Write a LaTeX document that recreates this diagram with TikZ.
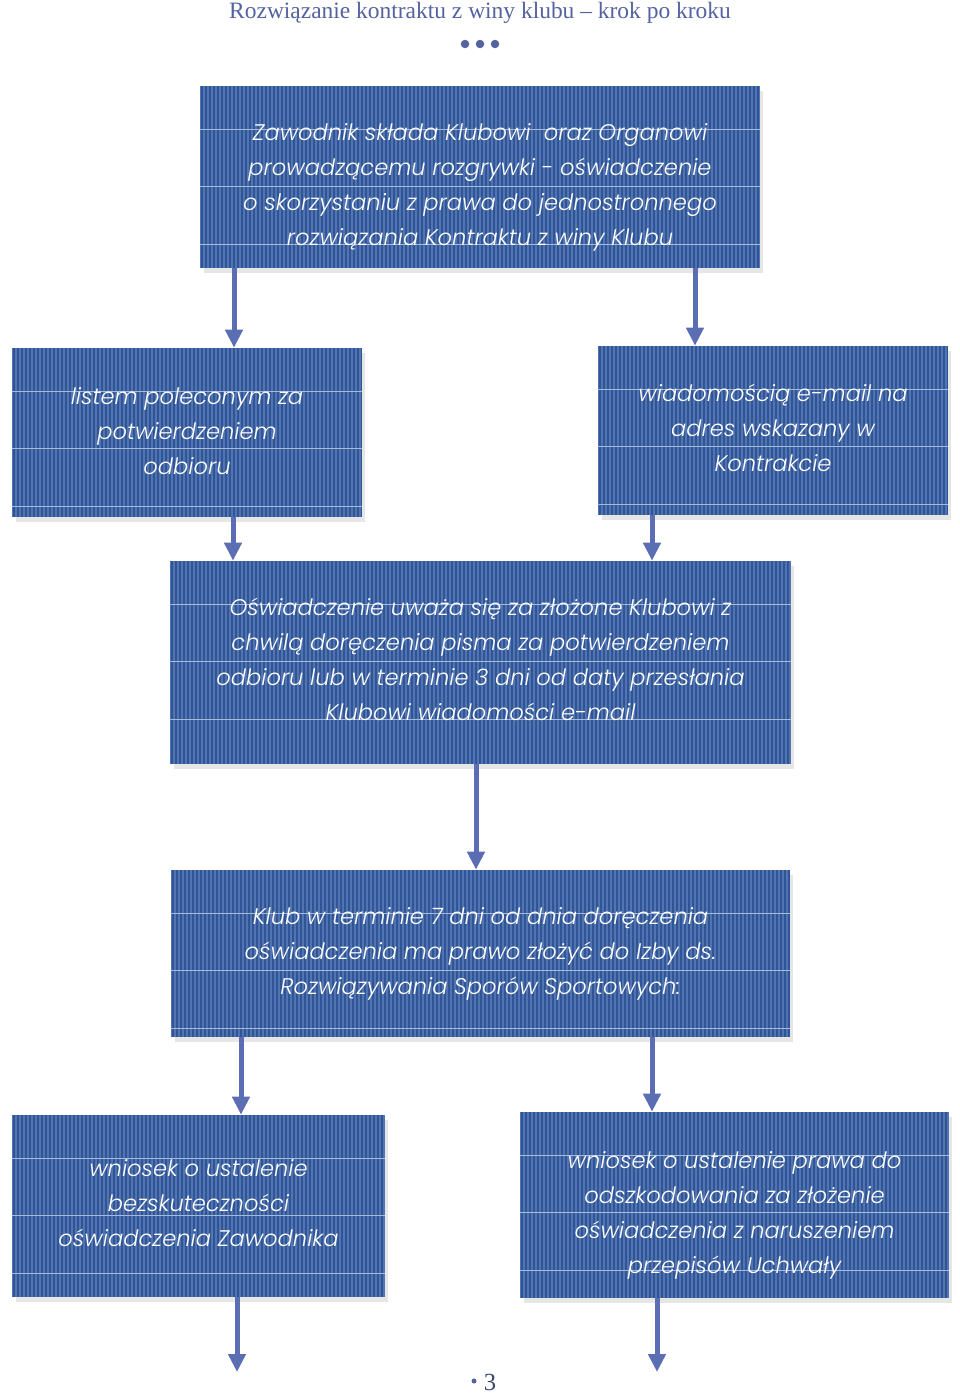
\documentclass[tikz,border=0pt]{standalone}
\usepackage{fontspec}
\setmainfont{Liberation Serif}
\newfontfamily\boxfont{Poppins Light Italic}
\usetikzlibrary{positioning}
\usetikzlibrary{arrows.meta}
\usetikzlibrary{shadows}
\definecolor{boxblue}{RGB}{47,85,151}
\definecolor{stripeblue}{RGB}{82,116,176}
\definecolor{ruleblue}{RGB}{165,185,220}
\definecolor{arrowblue}{RGB}{91,110,180}
\definecolor{titleblue}{RGB}{84,98,160}
\tikzset{
    mybox/.style = {rectangle, fill=boxblue, inner sep=0pt,
        drop shadow={shadow xshift=2pt,shadow yshift=-3pt,opacity=.2},
        path picture={
            \foreach \k in {0,4,...,640}
                \draw[stripeblue,line width=0.7pt] ([xshift=\k*0.02cm]path picture bounding box.north west) -- ([xshift=\k*0.02cm]path picture bounding box.south west);
            \foreach \k in {43,100.5,158}
                \draw[ruleblue,line width=0.5pt] ([yshift=-\k*0.02cm]path picture bounding box.north west) -- ([yshift=-\k*0.02cm]path picture bounding box.north east);
        }},
    boxtext/.style = {inner sep=0pt, align=center, text=white, font=\boxfont\fontsize{12.85}{19.9}\selectfont},
    edgea/.style = {arrowblue, line width=0.1cm, -{Triangle[width=0.34cm,length=0.36cm]}},
    dot/.style = {circle, fill=titleblue, inner sep=0pt, minimum size=0.17cm}
}

\begin{document}
\begin{tikzpicture}[x=0.02cm,y=-0.02cm]
\useasboundingbox (0,0) rectangle (960,1393);
\node[text=titleblue,font=\fontsize{13.35}{16}\selectfont] at (480,13) (title) {Rozwiązanie kontraktu z winy klubu – krok po kroku};
\node[dot] at (465,44) (d1) {};
\node[dot] at (480,44) (d2) {};
\node[dot] at (495,44) (d3) {};
%
\node[mybox,minimum width=11.2cm,minimum height=3.64cm] at (480,177) (s1) {};
\node[mybox,minimum width=7cm,minimum height=3.38cm] at (187,432.5) (s2) {};
\node[mybox,minimum width=7cm,minimum height=3.38cm] at (773,430.5) (s3) {};
\node[mybox,minimum width=12.42cm,minimum height=4.06cm] at (480.5,662.5) (s4) {};
\node[mybox,minimum width=12.38cm,minimum height=3.34cm] at (480.5,953.5) (s5) {};
\node[mybox,minimum width=7.46cm,minimum height=3.64cm] at (198.5,1206) (s6) {};
\node[mybox,minimum width=8.58cm,minimum height=3.72cm] at (734.5,1205) (s7) {};
%
\node[boxtext,below=0.76cm of s1.north] (t1) {Zawodnik składa Klubowi\ \ oraz Organowi\\prowadzącemu rozgrywki - oświadczenie\\o skorzystaniu z prawa do jednostronnego\\rozwiązania Kontraktu z winy Klubu};
\node[boxtext,below=0.8cm of s2.north] (t2) {listem poleconym za\\potwierdzeniem\\odbioru};
\node[boxtext,below=0.77cm of s3.north] (t3) {wiadomością e-mail na\\adres wskazany w\\Kontrakcie};
\node[boxtext,below=0.75cm of s4.north] (t4) {Oświadczenie uważa się za złożone Klubowi z\\chwilą doręczenia pisma za potwierdzeniem\\odbioru lub w terminie 3 dni od daty przesłania\\Klubowi wiadomości e-mail};
\node[boxtext,below=0.75cm of s5.north] (t5) {Klub w terminie 7 dni od dnia doręczenia\\oświadczenia ma prawo złożyć do Izby ds.\\Rozwiązywania Sporów Sportowych:};
\node[boxtext,below=0.89cm of s6.north] (t6) {wniosek o ustalenie\\bezskuteczności\\oświadczenia Zawodnika};
\node[boxtext,below=0.79cm of s7.north] (t7) {wniosek o ustalenie prawa do\\odszkodowania za złożenie\\oświadczenia z naruszeniem\\przepisów Uchwały};
%
\coordinate (e6) at (237,1372);
\coordinate (e7) at (657,1372);
\node[dot,minimum size=0.1cm] at (474,1381) (p0) {};
\node[text=titleblue!70!black,font=\fontsize{14}{16}\selectfont] at (490,1382) (page) {3};
%
\draw[edgea] (s1.south -| 234,0) -- (s2.north -| 234,0);
\draw[edgea] (s1.south -| 695,0) -- (s3.north -| 695,0);
\draw[edgea] (s2.south -| 233,0) -- (s4.north -| 233,0);
\draw[edgea] (s3.south -| 652,0) -- (s4.north -| 652,0);
\draw[edgea] (s4.south -| 476,0) -- (s5.north -| 476,0);
\draw[edgea] (s5.south -| 241,0) -- (s6.north -| 241,0);
\draw[edgea] (s5.south -| 652,0) -- (s7.north -| 652,0);
\draw[edgea] (s6.south -| e6) -- (e6);
\draw[edgea] (s7.south -| e7) -- (e7);

\end{tikzpicture}
\end{document}
